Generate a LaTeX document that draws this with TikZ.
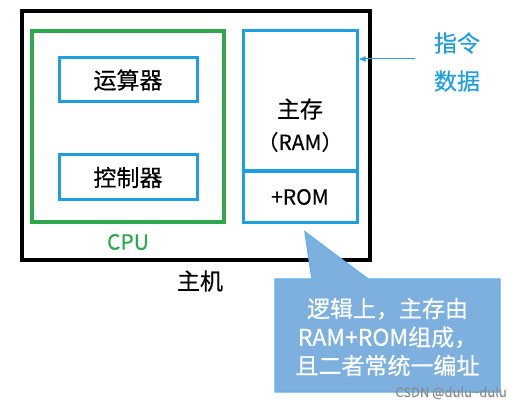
\documentclass[tikz,border=0pt]{standalone}
\usepackage{fontspec}
\setmainfont{Noto Sans CJK SC}[FakeBold=0.4]
\usetikzlibrary{arrows.meta}
\definecolor{cblue}{HTML}{1EA0E0}
\definecolor{cgreen}{HTML}{2EA84C}
\definecolor{cfill}{HTML}{7DB0DF}
\definecolor{cedge}{HTML}{62B2EA}
\begin{document}
\begin{tikzpicture}[x=1pt,y=-1pt,
  blackbox/.style={draw=black,line width=3.2pt},
  greenbox/.style={draw=cgreen,line width=3.2pt},
  bluebox/.style={draw=cblue,line width=3pt},
  lbl/.style={font=\fontsize{23}{26}\selectfont,inner sep=0pt},
  bluelbl/.style={lbl,text=cblue},
  greenlbl/.style={lbl,text=cgreen}]
\useasboundingbox (0,0) rectangle (523,409);
% host
\draw[blackbox] (22,11) rectangle (370,260);
\node[lbl] (host) at (200,281) {主机};
% CPU
\draw[greenbox] (32,31) rectangle (224,222);
\node[greenlbl,font=\fontsize{21}{24}\selectfont] (cpu) at (128,242) {CPU};
\node[bluebox,minimum width=138pt,minimum height=44pt,inner sep=0pt,lbl] (alu) at (128,80) {运算器};
\node[bluebox,minimum width=138pt,minimum height=45pt,inner sep=0pt,lbl] (cu) at (128,177.5) {控制器};
% memory
\node[bluebox,minimum width=114pt,minimum height=140pt,inner sep=0pt] (ram) at (300,101) {};
\node[bluebox,minimum width=114pt,minimum height=51pt,inner sep=0pt,lbl,font=\fontsize{21}{24}\selectfont] (rom) at (300,197) {+ROM};
\node[lbl] (ramt) at (300,109) {主存};
\node[lbl,font=\fontsize{21}{24}\selectfont] (ramt2) at (300,142) {（RAM）};
% arrow
\coordinate (src) at (415,59);
\draw[cblue,line width=1pt,-{Latex[length=7pt,width=6pt]}] (src) -- (ram.east |- src);
\node[bluelbl] (zl) at (457,43) {指令};
\node[bluelbl] (sj) at (457,81) {数据};
% callout
\draw[cedge,fill=cfill,line width=1.4pt,line join=miter]
  (275,279) -- (312,279) -- (305,232) -- (368,279) -- (500,279) -- (500,392) -- (275,392) -- cycle;
\node[lbl,text=white,align=center,font=\fontsize{23}{28.5}\selectfont] (note) at (387.5,337)
  {逻辑上，主存由\\RAM+ROM组成，\\且二者常统一编址};
\node[inner sep=0pt,text=black!45,font=\fontsize{13}{14}\selectfont,anchor=east] (wm) at (507,393) {CSDN @dulu\textasciitilde dulu};
\end{tikzpicture}
\end{document}
